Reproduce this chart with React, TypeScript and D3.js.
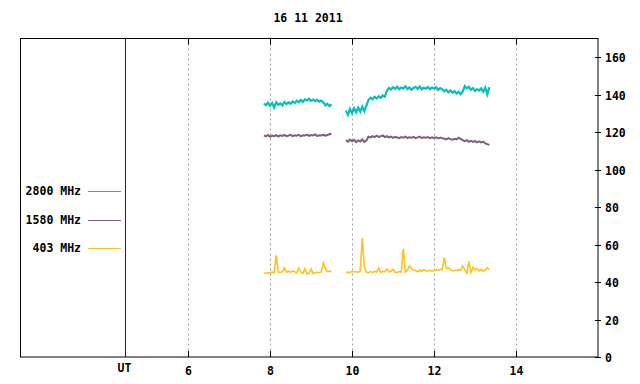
import { useEffect, useRef } from "react";
import * as d3 from "d3";

const title = "16 11 2011";
const xTicks = [6, 8, 10, 12, 14];
const yTicks = [0, 20, 40, 60, 80, 100, 120, 140, 160];
const utHour = 4.46;

// sampled every 0.05 h, two observing runs
const step = 0.05;
const run1Start = 7.85;
const run2Start = 9.85;

const f2800a = [135.2, 134.4, 135.8, 134.1, 135.6, 133.2, 135.9, 134.6, 135.3, 134.2, 136.1, 135.0, 135.9, 135.2, 136.4, 135.6, 136.8, 136.0, 137.2, 136.1, 137.5, 136.9, 137.8, 136.7, 137.4, 136.5, 137.2, 136.3, 136.9, 135.9, 134.3, 135.2, 133.9, 134.8];
const f2800b = [131.5, 129.2, 132.4, 130.1, 132.8, 130.6, 133.1, 131.0, 133.6, 131.2, 134.0,
  137.2, 138.4, 137.6, 138.9, 138.0, 139.2, 138.3, 139.6, 139.0,
  142.1, 143.6, 142.8, 144.0, 143.1, 144.3, 142.9, 143.8, 143.2, 144.5, 143.0, 143.9, 142.7, 143.6, 144.2, 143.1, 144.4, 142.8, 143.7, 143.2, 144.1, 142.9, 143.8, 143.3, 144.0, 142.6, 143.5, 142.9,
  141.8, 142.6, 141.2, 142.3, 141.0, 141.9, 140.6, 141.5, 140.2, 141.7,
  144.6, 143.4, 144.2, 142.6, 143.5, 141.9, 143.0, 142.2, 143.4, 141.6, 143.8, 140.2, 144.0];

const f1580a = [118.3, 117.8, 118.5, 117.6, 118.2, 117.9, 118.4, 117.7, 118.3, 118.0, 118.5, 117.9, 118.2, 118.6, 117.9, 118.3, 118.1, 118.6, 117.8, 118.4, 118.2, 118.7, 118.0, 118.5, 118.3, 118.8, 117.9, 118.4, 118.2, 118.6, 118.1, 118.5, 118.9, 119.2];
const f1580b = [115.8, 114.9, 116.0, 115.2, 115.9, 114.7, 115.6, 115.0, 116.1, 114.8, 115.5,
  117.6, 117.2, 117.9, 117.4, 118.1, 117.5, 117.8, 118.3, 117.4, 117.9, 117.2, 117.6, 117.0, 117.5, 117.2, 116.8, 117.4, 117.1, 117.6, 116.9, 117.3, 117.0, 117.5, 116.8, 117.2, 117.6, 116.9, 117.3, 117.0, 117.4, 116.8, 117.2, 116.9, 117.3, 116.7, 117.1, 116.8,
  116.6, 116.1, 116.8, 116.3, 116.0, 116.5, 116.2, 117.0, 116.4, 115.8, 115.2, 115.7, 114.9, 115.4, 114.8, 115.3, 114.6, 115.1, 114.5, 114.9, 114.0, 113.6, 113.2];

const f403a = [45.0, 44.6, 45.1, 44.8, 45.3, 45.0, 54.2, 45.4, 45.1, 45.6, 47.6, 45.3, 45.8, 45.2, 45.9, 45.5, 44.9, 47.4, 45.2, 44.5, 47.2, 44.4, 44.7, 47.0, 44.5, 44.8, 45.2, 45.0, 45.4, 50.2, 47.3, 45.6, 45.8, 45.5];
const f403b = [45.1, 45.3, 45.0, 45.8, 45.4, 45.6, 45.2, 46.0, 63.6, 48.2,
  45.3, 45.0, 45.6, 45.1, 45.8, 45.3, 47.6, 45.2, 45.7, 45.4,
  46.9, 45.5, 45.8, 46.8, 45.2, 45.1, 45.6, 45.3, 57.8, 45.4,
  46.2, 48.6, 47.1, 46.5, 46.0, 45.5, 46.4, 45.8, 46.6, 46.0,
  45.9, 46.3, 45.8, 46.2, 46.5, 46.3, 46.8, 46.6, 53.1, 47.2,
  47.4, 46.6, 46.0, 46.3, 46.2, 46.6, 46.4, 48.6, 46.5, 44.8,
  51.0, 45.2, 47.8, 46.5, 47.2, 46.0, 46.8, 45.9, 46.3, 47.6, 46.8];

const series = [
  { label: "2800 MHz", color: "#00c0c0", width: 2.2, runs: [f2800a, f2800b] },
  { label: "1580 MHz", color: "#7f5f7f", width: 2, runs: [f1580a, f1580b] },
  { label: "403 MHz", color: "#ffc020", width: 1.6, runs: [f403a, f403b] },
];

const font = "'DejaVu Sans Mono', monospace";

export default function App() {
  const svgRef = useRef<SVGSVGElement>(null);

  useEffect(() => {
    if (!svgRef.current) return;
    const svg = d3.select(svgRef.current);
    svg.selectAll("*").remove();

    const left = 20, right = 598, top = 38.5, bottom = 357;

    const x = d3.scaleLinear().domain([1.9, 16]).range([left, right]);
    const y = d3.scaleLinear().domain([0, 170]).range([bottom, top]);

    const label = (sel: d3.Selection<SVGTextElement, unknown, null, undefined>) =>
      sel.attr("font-family", font).attr("font-weight", "bold").attr("font-size", 11.5);

    // dotted grid
    svg.append("g")
      .selectAll("line")
      .data(xTicks)
      .enter()
      .append("line")
      .attr("x1", d => Math.round(x(d)) + 0.5)
      .attr("x2", d => Math.round(x(d)) + 0.5)
      .attr("y1", top)
      .attr("y2", bottom)
      .attr("stroke", "#a0a0a0")
      .attr("stroke-dasharray", "2,3");

    // short ticks top and bottom
    xTicks.forEach(t => {
      const xp = Math.round(x(t)) + 0.5;
      svg.append("line").attr("x1", xp).attr("x2", xp).attr("y1", bottom).attr("y2", bottom - 6).attr("stroke", "#000");
      svg.append("line").attr("x1", xp).attr("x2", xp).attr("y1", top).attr("y2", top + 6).attr("stroke", "#000");
      svg.append("text")
        .attr("x", xp)
        .attr("y", 375)
        .attr("text-anchor", "middle")
        .call(label)
        .text(t);
    });

    // UT marker
    const ux = Math.round(x(utHour)) + 0.5;
    svg.append("line").attr("x1", ux).attr("x2", ux).attr("y1", top).attr("y2", bottom).attr("stroke", "#800000");
    svg.append("text")
      .attr("x", ux - 1)
      .attr("y", 372)
      .attr("text-anchor", "middle")
      .call(label)
      .text("UT");

    // right axis
    yTicks.forEach(v => {
      const yp = Math.round(y(v)) + 0.5;
      svg.append("line").attr("x1", right - 3).attr("x2", right + 3).attr("y1", yp).attr("y2", yp).attr("stroke", "#000");
      svg.append("text")
        .attr("x", 605)
        .attr("y", yp + 4)
        .call(label)
        .text(v);
    });

    // frame
    svg.append("rect")
      .attr("x", left + 0.5)
      .attr("y", top)
      .attr("width", right - left - 0.5)
      .attr("height", bottom - top)
      .attr("fill", "none")
      .attr("stroke", "#000");

    // data
    series.forEach(s => {
      s.runs.forEach((vals, r) => {
        const t0 = r === 0 ? run1Start : run2Start;
        const gen = d3.line<number>()
          .x((_, i) => x(t0 + i * step))
          .y(d => y(d));
        svg.append("path")
          .datum(vals)
          .attr("fill", "none")
          .attr("stroke", s.color)
          .attr("stroke-width", s.width)
          .attr("d", gen);
      });
    });

    // legend
    series.forEach((s, i) => {
      const ly = 191 + i * 28.5;
      svg.append("text")
        .attr("x", 81)
        .attr("y", ly + 4)
        .attr("text-anchor", "end")
        .call(label)
        .text(s.label);
      svg.append("line")
        .attr("x1", 88).attr("x2", 121)
        .attr("y1", Math.round(ly) + 0.5).attr("y2", Math.round(ly) + 0.5)
        .attr("stroke", s.color);
    });

    // title
    svg.append("text")
      .attr("x", 308)
      .attr("y", 22)
      .attr("text-anchor", "middle")
      .call(label)
      .text(title);
  }, []);

  return (
    <svg ref={svgRef} width={640} height={384}
      style={{ position: "absolute", left: 0, top: 0, background: "#fff" }} />
  );
}
